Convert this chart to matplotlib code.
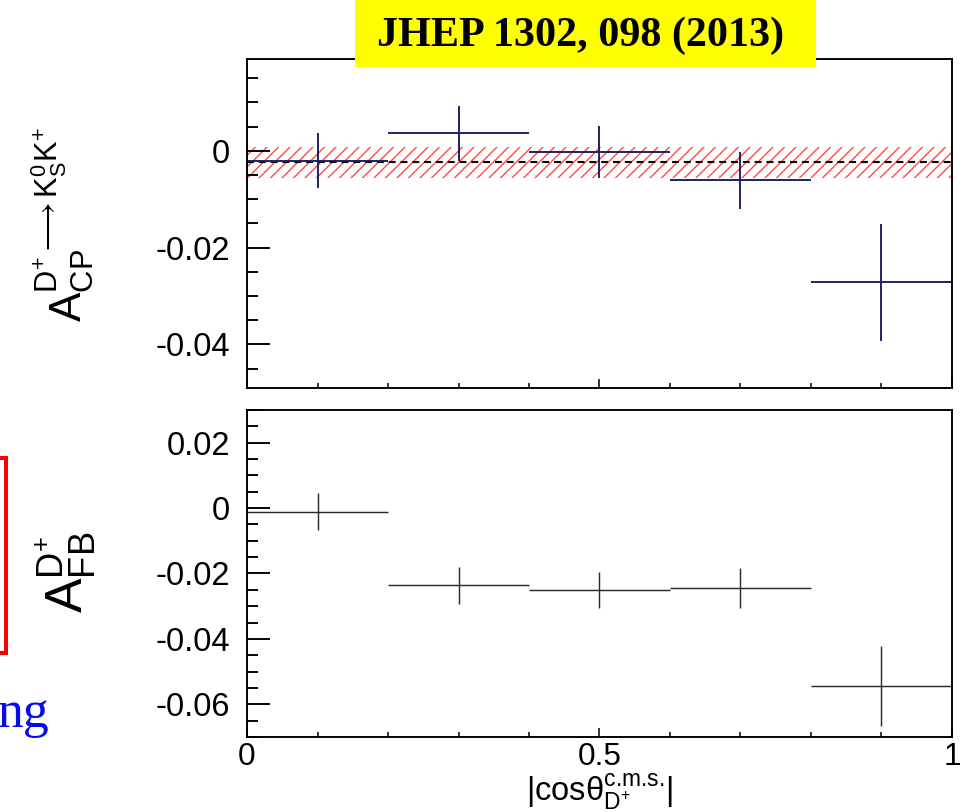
import matplotlib
matplotlib.use("Agg")
import matplotlib.pyplot as plt
from matplotlib.patches import Rectangle
from matplotlib.ticker import MultipleLocator, FixedLocator, FuncFormatter

plt.rcParams['font.family'] = 'Liberation Sans'
plt.rcParams['mathtext.fontset'] = 'custom'
plt.rcParams['mathtext.rm'] = 'Liberation Sans'
plt.rcParams['mathtext.it'] = 'Liberation Sans:italic'
plt.rcParams['mathtext.default'] = 'regular'
plt.rcParams['axes.unicode_minus'] = False
plt.rcParams['hatch.linewidth'] = 0.7

# binned asymmetries vs |cos theta|
bin_centers = [0.1, 0.3, 0.5, 0.7, 0.9]
bin_halfwidth = [0.1, 0.1, 0.1, 0.1, 0.1]
acp = [-0.0020, 0.0036, -0.0003, -0.0061, -0.0272]
acp_err = [0.0057, 0.0056, 0.0054, 0.0059, 0.0120]
afb = [-0.0011, -0.0236, -0.0251, -0.0244, -0.0544]
afb_err = [0.0056, 0.0056, 0.0055, 0.0061, 0.0122]
acp_avg = -0.0024
acp_avg_err = 0.0032

navy = '#1c1f5e'

fig = plt.figure(figsize=(7.0, 812 / 138), dpi=138)
ax1 = fig.add_axes([0.2557, 0.5222, 0.7298, 0.4052])
ax2 = fig.add_axes([0.2557, 0.0924, 0.7298, 0.4027])

# top panel: A_CP
ax1.fill_between([0, 1], acp_avg - acp_avg_err, acp_avg + acp_avg_err,
                 facecolor='none', edgecolor='#ff4545', linewidth=0, hatch='////')
ax1.plot([0, 1], [acp_avg, acp_avg], color='black', lw=1.1, dashes=(3.3, 2.3))
ax1.errorbar(bin_centers, acp, xerr=bin_halfwidth, yerr=acp_err, fmt='none',
             ecolor=navy, elinewidth=1.0, capsize=0)
ax1.set_xlim(0, 1)
ax1.set_ylim(-0.049, 0.019)
ax1.yaxis.set_major_locator(FixedLocator([-0.04, -0.02, 0.0]))
ax1.set_xticklabels([])

# bottom panel: A_FB
ax2.errorbar(bin_centers, afb, xerr=bin_halfwidth, yerr=afb_err, fmt='none',
             ecolor='#2a2a2a', elinewidth=0.75, capsize=0)
ax2.set_xlim(0, 1)
ax2.set_ylim(-0.07, 0.03)
ax2.yaxis.set_major_locator(FixedLocator([-0.06, -0.04, -0.02, 0.0, 0.02]))

fmt = FuncFormatter(lambda v, p: '0' if abs(v) < 1e-9 else '%.2f' % v)
for ax in (ax1, ax2):
    ax.xaxis.set_major_locator(FixedLocator([0, 0.5, 1]))
    ax.xaxis.set_minor_locator(MultipleLocator(0.1))
    ax.yaxis.set_minor_locator(MultipleLocator(0.005))
    ax.yaxis.set_major_formatter(fmt)
    ax.tick_params(axis='y', which='major', direction='in', length=12, width=1.0,
                   pad=9, labelsize=17)
    ax.tick_params(axis='y', which='minor', direction='in', length=5.8, width=1.0)
    ax.tick_params(axis='x', which='major', direction='in', length=4.5, width=0.8,
                   pad=2.5, labelsize=16.5)
    ax.tick_params(axis='x', which='minor', direction='in', length=2.5, width=0.8)
    for s in ax.spines.values():
        s.set_linewidth(1.0)

ax2.xaxis.set_major_formatter(FuncFormatter(lambda v, p: '%g' % v))
ax2.set_xlabel(r'$|cos\theta_{D^{+}}^{\text{c.m.s.}}|$', fontsize=17, labelpad=0.5)

fig.text(63 / 966, 1 - 224 / 812, r'$A_{CP}^{D^{+}\longrightarrow K_{S}^{0}K^{+}}$',
         rotation=90, ha='center', va='center', fontsize=23)
fig.text(66 / 966, 1 - 572 / 812, r'$A_{FB}^{D^{+}}$',
         rotation=90, ha='center', va='center', fontsize=27)

# slide decorations
fig.patches.append(Rectangle((355 / 966, 1 - 67 / 812), 461 / 966, 67 / 812,
                             transform=fig.transFigure, facecolor='#ffff00',
                             edgecolor='none', zorder=5))
fig.text(581 / 966, 1 - 36 / 812, 'JHEP 1302, 098 (2013)', family='Liberation Serif',
         fontweight='bold', fontsize=22, ha='center', va='center', zorder=6)
fig.patches.append(Rectangle((-0.03, 1 - 653 / 812), 0.03 + 6 / 966, 195 / 812,
                             transform=fig.transFigure, facecolor='none',
                             edgecolor='#ff0000', linewidth=2.1, zorder=5))
fig.text(50 / 966, 1 - 727 / 812, 'ng', family='Liberation Serif', color='#0a0af0',
         fontsize=27, ha='right', va='baseline')

fig.savefig('out.png', dpi=138)
